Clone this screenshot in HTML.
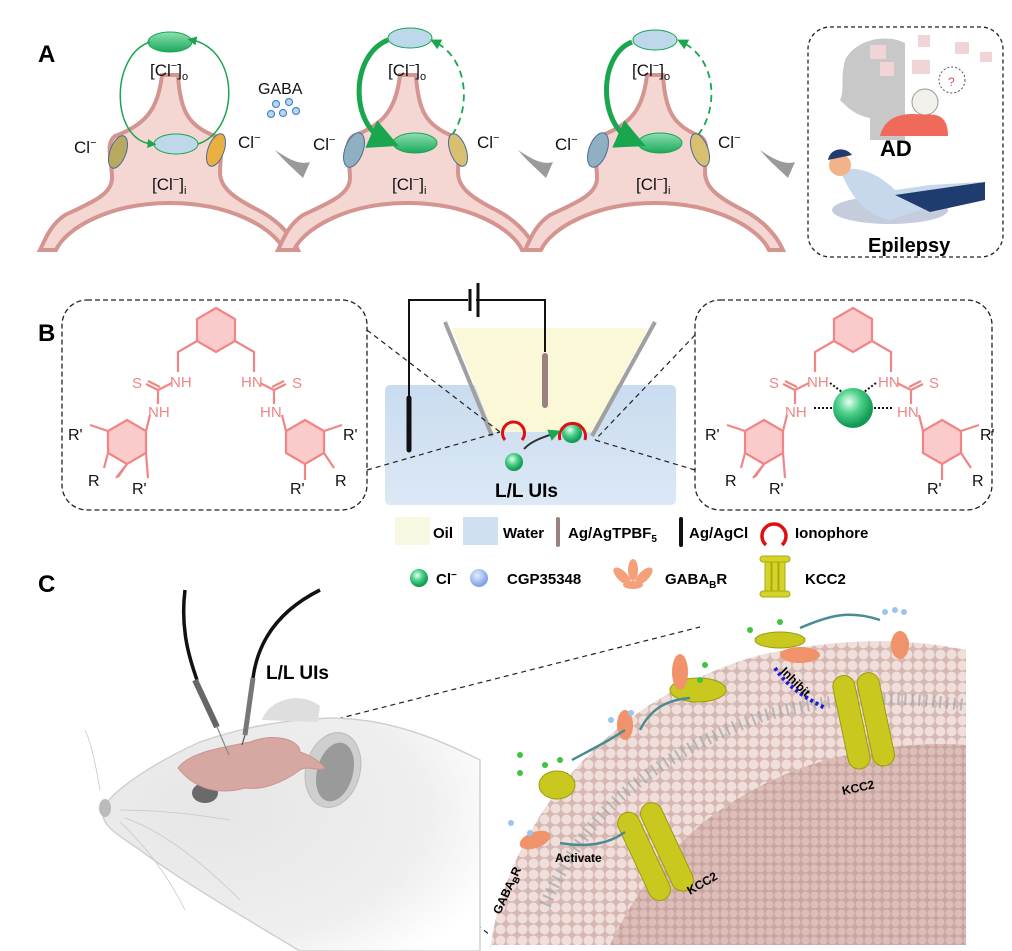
<!DOCTYPE html>
<html><head><meta charset="utf-8"><style>
html,body{margin:0;padding:0;background:#fff;}
svg{display:block;font-family:"Liberation Sans",Arial,sans-serif;}
</style></head><body>
<svg width="1012" height="951" viewBox="0 0 1012 951" xmlns="http://www.w3.org/2000/svg">
<defs>
<radialGradient id="gs" cx="40%" cy="35%" r="60%"><stop offset="0" stop-color="#e8fff0"/><stop offset="0.5" stop-color="#4cd08a"/><stop offset="1" stop-color="#119a55"/></radialGradient>
<radialGradient id="bs" cx="40%" cy="35%" r="60%"><stop offset="0" stop-color="#e6eeff"/><stop offset="1" stop-color="#7fa2e6"/></radialGradient>
<linearGradient id="ge" x1="0" y1="0" x2="0" y2="1"><stop offset="0" stop-color="#8fe0b0"/><stop offset="1" stop-color="#1aa85e"/></linearGradient>
<linearGradient id="water" x1="0" y1="0" x2="0" y2="1"><stop offset="0" stop-color="#c9dcef"/><stop offset="1" stop-color="#dce8f5"/></linearGradient>
<pattern id="balls" width="11" height="11" patternUnits="userSpaceOnUse"><rect width="11" height="11" fill="#d6b8b3"/><circle cx="5.5" cy="5.5" r="5" fill="#f0dedb"/></pattern>
<pattern id="balls2" width="9" height="9" patternUnits="userSpaceOnUse"><rect width="9" height="9" fill="#c9a5a0"/><circle cx="4.5" cy="4.5" r="4" fill="#dcbdb8"/></pattern>
<radialGradient id="mouse" cx="30%" cy="40%" r="80%"><stop offset="0" stop-color="#e6e6e6"/><stop offset="0.7" stop-color="#efefef"/><stop offset="1" stop-color="#ffffff"/></radialGradient>
<marker id="ah" markerWidth="6" markerHeight="6" refX="3" refY="3" orient="auto"><path d="M0,0 L6,3 L0,6Z" fill="#1aa64f"/></marker>
<path id="neu" d="M-8,75 C-12,110 -25,125 -55,136 C-65,143 -58,160 -58,178 C-58,195 -80,203 -105,215 C-120,225 -125,240 -130,250 L-114,250 C-104,228 -60,203 0,203 C60,203 104,228 114,250 L128,250 C120,232 104,218 88,210 C62,197 50,187 50,172 C50,155 55,142 45,136 C18,126 10,110 8,75 Z"/>
</defs>

<text x="38" y="62" font-size="24" font-weight="bold">A</text>
<text x="38" y="341" font-size="24" font-weight="bold">B</text>
<text x="38" y="592" font-size="24" font-weight="bold">C</text>

<g fill="#f4d6d2" stroke="#d49590" stroke-width="4">
<use href="#neu" transform="translate(170,0)"/>
<use href="#neu" transform="translate(408,0)"/>
<use href="#neu" transform="translate(655,0)"/>
</g>
<g>
<ellipse cx="170" cy="42" rx="22" ry="10" fill="url(#ge)" stroke="#1aa64f"/>
<ellipse cx="176" cy="144" rx="22" ry="10" fill="#bcd8ea" stroke="#1aa64f"/>
<path d="M150,42 C110,55 110,140 152,144" fill="none" stroke="#1aa64f" stroke-width="1.5" marker-end="url(#ah)"/>
<path d="M198,144 C240,130 240,50 192,40" fill="none" stroke="#1aa64f" stroke-width="1.5" marker-end="url(#ah)"/>
<ellipse cx="118" cy="152" rx="8" ry="17" transform="rotate(20 118 152)" fill="#b8a860" stroke="#4a6a9a"/>
<ellipse cx="216" cy="150" rx="8" ry="17" transform="rotate(20 216 150)" fill="#e8b040" stroke="#4a6a9a"/>
</g>
<g>
<ellipse cx="410" cy="38" rx="22" ry="10" fill="#bcd8ea" stroke="#1aa64f"/>
<ellipse cx="415" cy="143" rx="22" ry="10" fill="url(#ge)" stroke="#1aa64f"/>
<path d="M388,40 C350,55 350,125 385,140" fill="none" stroke="#1aa64f" stroke-width="5" marker-end="url(#ah)"/>
<path d="M452,135 C470,110 470,60 435,42" fill="none" stroke="#1aa64f" stroke-width="1.8" stroke-dasharray="7,5" marker-end="url(#ah)"/>
<ellipse cx="354" cy="150" rx="9" ry="18" transform="rotate(20 354 150)" fill="#8fb0c0" stroke="#4a6a9a"/>
<ellipse cx="458" cy="150" rx="8" ry="17" transform="rotate(-20 458 150)" fill="#d8c070" stroke="#4a6a9a"/>
</g>
<g>
<ellipse cx="655" cy="40" rx="22" ry="10" fill="#bcd8ea" stroke="#1aa64f"/>
<ellipse cx="660" cy="143" rx="22" ry="10" fill="url(#ge)" stroke="#1aa64f"/>
<path d="M632,42 C598,55 598,125 632,140" fill="none" stroke="#1aa64f" stroke-width="5" marker-end="url(#ah)"/>
<path d="M698,135 C718,110 718,60 682,42" fill="none" stroke="#1aa64f" stroke-width="1.8" stroke-dasharray="7,5" marker-end="url(#ah)"/>
<ellipse cx="598" cy="150" rx="9" ry="18" transform="rotate(20 598 150)" fill="#8fb0c0" stroke="#4a6a9a"/>
<ellipse cx="700" cy="150" rx="8" ry="17" transform="rotate(-20 700 150)" fill="#d8c070" stroke="#4a6a9a"/>
</g>
<g font-size="17" fill="#111">
<text x="150" y="76">[Cl<tspan font-size="11" dy="-7">−</tspan><tspan dy="7">]</tspan><tspan font-size="11" dy="4">o</tspan></text>
<text x="152" y="190">[Cl<tspan font-size="11" dy="-7">−</tspan><tspan dy="7">]</tspan><tspan font-size="11" dy="4">i</tspan></text>
<text x="388" y="76">[Cl<tspan font-size="11" dy="-7">−</tspan><tspan dy="7">]</tspan><tspan font-size="11" dy="4">o</tspan></text>
<text x="392" y="190">[Cl<tspan font-size="11" dy="-7">−</tspan><tspan dy="7">]</tspan><tspan font-size="11" dy="4">i</tspan></text>
<text x="632" y="76">[Cl<tspan font-size="11" dy="-7">−</tspan><tspan dy="7">]</tspan><tspan font-size="11" dy="4">o</tspan></text>
<text x="636" y="190">[Cl<tspan font-size="11" dy="-7">−</tspan><tspan dy="7">]</tspan><tspan font-size="11" dy="4">i</tspan></text>
<text x="74" y="153">Cl<tspan font-size="11" dy="-7">−</tspan></text>
<text x="238" y="148">Cl<tspan font-size="11" dy="-7">−</tspan></text>
<text x="313" y="150">Cl<tspan font-size="11" dy="-7">−</tspan></text>
<text x="477" y="148">Cl<tspan font-size="11" dy="-7">−</tspan></text>
<text x="555" y="150">Cl<tspan font-size="11" dy="-7">−</tspan></text>
<text x="718" y="148">Cl<tspan font-size="11" dy="-7">−</tspan></text>
<text x="258" y="94" font-size="16">GABA</text>
</g>
<g fill="#bcd6f0" stroke="#4a86c8" stroke-width="1.2">
<circle cx="276" cy="104" r="3.5"/><circle cx="289" cy="102" r="3.5"/><circle cx="271" cy="114" r="3.5"/><circle cx="283" cy="113" r="3.5"/><circle cx="296" cy="111" r="3.5"/>
</g>
<g fill="#9a9a9a">
<path d="M275,150 C290,160 300,165 310,162 L303,178 C295,170 285,162 275,150Z"/>
<path d="M518,150 C533,160 543,165 553,162 L546,178 C538,170 528,162 518,150Z"/>
<path d="M760,150 C775,160 785,165 795,162 L788,178 C780,170 770,162 760,150Z"/>
</g>
<rect x="808" y="27" width="195" height="230" rx="22" fill="#fff" stroke="#222" stroke-dasharray="4,3" stroke-width="1.3"/>
<path d="M870,140 L870,118 C855,115 848,108 840,100 C845,90 840,80 845,60 C855,40 885,33 905,43 L905,140 Z" fill="#c8c8c8"/>
<g fill="#f0d4d6"><rect x="870" y="45" width="16" height="14"/><rect x="912" y="60" width="18" height="14"/><rect x="918" y="35" width="12" height="12"/><rect x="955" y="42" width="14" height="12"/><rect x="980" y="52" width="12" height="10"/><rect x="880" y="62" width="14" height="14"/></g>
<circle cx="952" cy="80" r="13" fill="#fff" stroke="#555" stroke-dasharray="2,2"/><text x="948" y="86" font-size="12" fill="#e05050">?</text>
<circle cx="925" cy="102" r="13" fill="#f2f0ea" stroke="#999"/>
<path d="M880,136 C885,115 905,112 925,115 C945,112 948,125 948,136 Z" fill="#f06a5a"/>
<text x="880" y="156" font-size="22" font-weight="bold">AD</text>
<ellipse cx="890" cy="210" rx="58" ry="14" fill="#c5ccdc"/>
<path d="M840,170 C860,165 880,175 895,190 L930,185 L980,182 L985,200 L935,205 L890,220 C865,215 850,195 840,170Z" fill="#c8d8ec"/>
<path d="M895,195 L985,182 L985,200 L930,212 Z" fill="#1f3c6e"/>
<circle cx="840" cy="165" r="11" fill="#f2b38a"/><path d="M828,160 C830,148 845,146 852,155 Z" fill="#1f3c6e"/>
<text x="868" y="252" font-size="20" font-weight="bold">Epilepsy</text>

<rect x="62" y="300" width="305" height="210" rx="25" fill="none" stroke="#222" stroke-dasharray="5,3" stroke-width="1.3"/>
<rect x="695" y="300" width="297" height="210" rx="25" fill="none" stroke="#222" stroke-dasharray="5,3" stroke-width="1.3"/>

<g id="molL" stroke="#f08585" stroke-width="2.2" fill="none">
<polygon points="216,308 235,319 235,341 216,352 197,341 197,319" fill="#fbcaca"/>
<polygon points="127,420 146,431 146,453 127,464 108,453 108,431" fill="#fbcaca"/>
<polygon points="305,420 324,431 324,453 305,464 286,453 286,431" fill="#fbcaca"/>
<path d="M197,341 L178,352 L178,372 M235,341 L254,352 L254,372"/>
<path d="M172,383 L158,390 L158,404 M158,390 L146,384 M160,387 L148,381"/>
<path d="M260,383 L274,390 L274,404 M274,390 L286,384 M272,387 L284,381"/>
<path d="M150,415 L146,431 M282,415 L286,431"/>
<path d="M108,431 L90,425 M127,464 L116,478 M127,464 L118,477 M108,453 L104,468 M146,453 L148,478"/>
<path d="M324,431 L342,425 M305,464 L305,480 M324,453 L334,468"/>
</g>
<g font-size="15" fill="#f08585">
<text x="170" y="387">NH</text><text x="132" y="388">S</text><text x="148" y="417">NH</text>
<text x="241" y="387">HN</text><text x="292" y="388">S</text><text x="260" y="417">HN</text>
</g>
<g font-size="16" fill="#111">
<text x="68" y="440">R'</text><text x="88" y="486">R</text><text x="132" y="494">R'</text>
<text x="343" y="440">R'</text><text x="335" y="486">R</text><text x="290" y="494">R'</text>
</g>
<use href="#molL" transform="translate(637,0)"/>
<g font-size="15" fill="#f08585">
<text x="807" y="387">NH</text><text x="769" y="388">S</text><text x="785" y="417">NH</text>
<text x="878" y="387">HN</text><text x="929" y="388">S</text><text x="897" y="417">HN</text>
</g>
<g font-size="16" fill="#111">
<text x="705" y="440">R'</text><text x="725" y="486">R</text><text x="769" y="494">R'</text>
<text x="980" y="440">R'</text><text x="972" y="486">R</text><text x="927" y="494">R'</text>
</g>
<circle cx="853" cy="408" r="20" fill="url(#gs)"/>
<g stroke="#111" stroke-width="2" stroke-dasharray="2,2"><path d="M830,383 L842,392 M876,383 L864,392 M814,408 L832,408 M874,408 L892,408"/></g>

<rect x="385" y="385" width="291" height="120" rx="5" fill="url(#water)"/>
<polygon points="452,328 648,328 592,432 493,432" fill="#fbf8d8"/>
<path d="M445,322 L492,436 M655,322 L592,436" stroke="#a0a0a0" stroke-width="4"/>
<path d="M409,451 L409,300 L468,300 M476,300 L545,300 L545,352" fill="none" stroke="#111" stroke-width="2"/>
<path d="M470,289 L470,311 M478,283 L478,317" stroke="#111" stroke-width="3"/>
<path d="M409,398 L409,450" stroke="#111" stroke-width="5" stroke-linecap="round"/>
<path d="M545,356 L545,405" stroke="#9a8280" stroke-width="6" stroke-linecap="round"/>
<path d="M505,440 A11,11 0 1 1 522,440" fill="none" stroke="#d11" stroke-width="3"/>
<circle cx="572" cy="433" r="10" fill="url(#gs)"/>
<path d="M560,440 A13,13 0 1 1 585,440" fill="none" stroke="#d11" stroke-width="3"/>
<path d="M524,449 C532,440 545,437 555,433" fill="none" stroke="#333" stroke-width="2" marker-end="url(#ah)"/>
<circle cx="514" cy="462" r="9" fill="url(#gs)"/>
<text x="495" y="497" font-size="19" font-weight="bold">L/L UIs</text>
<g stroke="#222" stroke-dasharray="5,4" stroke-width="1.2">
<path d="M367,330 L500,432 M367,470 L500,432 M695,335 L595,440 M695,470 L595,440"/>
<path d="M242,743 L700,627 M242,743 L490,935"/>
</g>

<rect x="395" y="517" width="35" height="28" fill="#f7f7e2"/>
<text x="433" y="538" font-size="15" font-weight="bold">Oil</text>
<rect x="463" y="517" width="35" height="28" fill="#cfe0f0"/>
<text x="503" y="538" font-size="15" font-weight="bold">Water</text>
<path d="M558,519 L558,545" stroke="#9a8280" stroke-width="4" stroke-linecap="round"/>
<text x="568" y="538" font-size="15" font-weight="bold">Ag/AgTPBF<tspan font-size="10" dy="4">5</tspan></text>
<path d="M681,519 L681,545" stroke="#111" stroke-width="4" stroke-linecap="round"/>
<text x="689" y="538" font-size="15" font-weight="bold">Ag/AgCl</text>
<path d="M766,545 A12,12 0 1 1 782,545" fill="none" stroke="#d11" stroke-width="3.5"/>
<text x="795" y="538" font-size="15" font-weight="bold">Ionophore</text>
<circle cx="419" cy="578" r="9" fill="url(#gs)"/>
<text x="436" y="584" font-size="15" font-weight="bold">Cl<tspan font-size="10" dy="-6">−</tspan></text>
<circle cx="479" cy="578" r="9" fill="url(#bs)"/>
<text x="507" y="584" font-size="15" font-weight="bold">CGP35348</text>
<g fill="#f4a07a"><ellipse cx="633" cy="570" rx="5" ry="11"/><ellipse cx="622" cy="576" rx="5" ry="11" transform="rotate(-45 622 576)"/><ellipse cx="644" cy="576" rx="5" ry="11" transform="rotate(45 644 576)"/><ellipse cx="633" cy="585" rx="10" ry="4"/></g>
<text x="665" y="584" font-size="15" font-weight="bold">GABA<tspan font-size="10" dy="4">B</tspan><tspan dy="-4">R</tspan></text>
<g fill="#d4d428" stroke="#a8a810"><rect x="765" y="558" width="6" height="38" rx="3"/><rect x="772" y="558" width="6" height="38" rx="3"/><rect x="779" y="558" width="6" height="38" rx="3"/><rect x="760" y="556" width="30" height="6" rx="3"/><rect x="760" y="591" width="30" height="6" rx="3"/></g>
<text x="805" y="584" font-size="15" font-weight="bold">KCC2</text>

<path d="M103,810 C110,790 160,760 200,742 C240,728 280,720 330,718 C390,718 440,740 480,760 L480,951 L300,951 C240,915 180,880 140,850 C118,835 100,825 103,810Z" fill="url(#mouse)" stroke="#d0d0d0" stroke-width="1.5"/>
<ellipse cx="105" cy="808" rx="6" ry="9" fill="#bbb"/>
<path d="M262,720 C268,700 300,690 320,706 L318,722Z" fill="#dedede"/>
<ellipse cx="333" cy="770" rx="27" ry="38" transform="rotate(15 333 770)" fill="#cfcfcf" stroke="#bbb"/>
<ellipse cx="335" cy="772" rx="18" ry="30" transform="rotate(15 335 772)" fill="#9a9a9a"/>
<ellipse cx="205" cy="793" rx="13" ry="10" fill="#6a6a6a"/>
<path d="M178,768 C190,752 220,748 250,742 C275,732 300,740 300,752 C310,755 318,760 325,768 C318,772 308,765 300,770 C280,785 260,790 245,788 C220,795 195,790 178,768Z" fill="#d7a7a2" stroke="#c99590"/>
<g stroke="#c8c8c8" stroke-width="0.8" fill="none"><path d="M120,810 C150,810 180,812 230,820 M125,818 C160,830 200,860 240,900 M120,822 C150,850 170,880 185,910 M100,790 C95,760 90,740 85,730"/></g>
<path d="M185,590 C180,630 190,660 197,680" fill="none" stroke="#111" stroke-width="3.5"/>
<path d="M195,680 L217,727" stroke="#666" stroke-width="6"/>
<path d="M217,727 L229,755" stroke="#888" stroke-width="1.2"/>
<path d="M320,590 C280,610 258,640 253,678" fill="none" stroke="#111" stroke-width="3.5"/>
<path d="M253,678 L245,735" stroke="#777" stroke-width="5"/>
<path d="M245,735 L242,745" stroke="#555" stroke-width="1.2"/>
<text x="266" y="679" font-size="19" font-weight="bold">L/L UIs</text>

<path d="M490,951 C505,830 600,700 760,655 C850,635 920,640 966,650 L966,945 L490,945 Z" fill="url(#balls)"/>
<path d="M610,945 C650,860 710,800 810,765 C875,745 930,742 966,745 L966,945 Z" fill="url(#balls2)"/>
<path d="M545,905 C585,810 655,755 765,715 C860,690 920,700 966,705" fill="none" stroke="#9aa6aa" stroke-width="12" stroke-dasharray="2,5" opacity="0.7"/>
<g fill="#c8c81e" stroke="#9c9c10" stroke-width="1">
<rect x="630" y="810" width="22" height="95" rx="11" transform="rotate(-25 640 850)"/>
<rect x="655" y="800" width="22" height="95" rx="11" transform="rotate(-25 665 845)"/>
<rect x="840" y="675" width="22" height="95" rx="11" transform="rotate(-12 850 720)"/>
<rect x="865" y="672" width="22" height="95" rx="11" transform="rotate(-12 875 720)"/>
<ellipse cx="557" cy="785" rx="18" ry="14"/>
<ellipse cx="698" cy="690" rx="28" ry="12"/>
<ellipse cx="780" cy="640" rx="25" ry="8"/>
</g>
<g fill="#f0926a">
<ellipse cx="535" cy="840" rx="16" ry="8" transform="rotate(-20 535 840)"/>
<ellipse cx="625" cy="725" rx="8" ry="15"/>
<ellipse cx="680" cy="672" rx="8" ry="18"/>
<ellipse cx="800" cy="655" rx="20" ry="8"/>
<ellipse cx="900" cy="645" rx="9" ry="14"/>
</g>
<path d="M775,668 C790,690 810,700 825,708" fill="none" stroke="#1b1bdc" stroke-width="4" stroke-dasharray="3,3"/>
<g font-size="12" font-weight="bold">
<text x="555" y="862">Activate</text>
<text x="843" y="795" transform="rotate(-12 843 795)">KCC2</text>
<text x="690" y="895" transform="rotate(-30 690 895)">KCC2</text>
<text x="780" y="672" transform="rotate(45 780 672)">Inhibit</text>
<text x="500" y="915" transform="rotate(-65 500 915)">GABA<tspan font-size="9" dy="3">B</tspan><tspan dy="-3">R</tspan></text>
</g>
<g fill="#3ec43e"><circle cx="520" cy="755" r="3"/><circle cx="545" cy="765" r="3"/><circle cx="560" cy="760" r="3"/><circle cx="705" cy="665" r="3"/><circle cx="700" cy="680" r="3"/><circle cx="750" cy="630" r="3"/><circle cx="780" cy="622" r="3"/><circle cx="520" cy="773" r="3"/></g>
<g fill="#9cc4ee"><circle cx="885" cy="612" r="3"/><circle cx="895" cy="610" r="3"/><circle cx="904" cy="612" r="3"/><circle cx="631" cy="713" r="3"/><circle cx="611" cy="720" r="3"/><circle cx="511" cy="823" r="3"/><circle cx="530" cy="833" r="3"/></g>
<g fill="none" stroke="#4a8c92" stroke-width="2.5">
<path d="M880,620 C850,610 830,615 800,628"/>
<path d="M625,730 C610,740 600,745 572,760"/>
<path d="M640,730 C650,710 665,700 690,698"/>
<path d="M560,843 C590,848 610,843 625,832"/>
</g>
</svg>
</body></html>
